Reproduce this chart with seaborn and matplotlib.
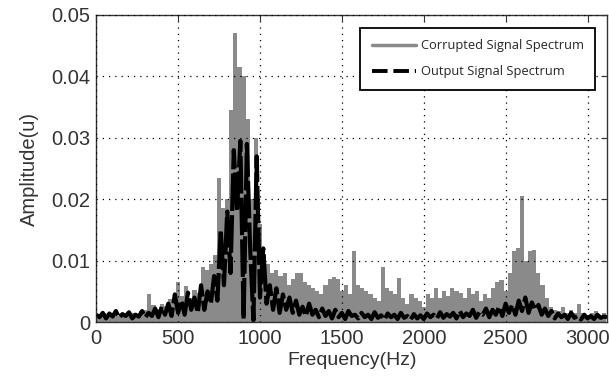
import numpy as np
import matplotlib
matplotlib.use("Agg")
import matplotlib.pyplot as plt
import seaborn as sns
from matplotlib.lines import Line2D

# corrupted spectrum, 25 Hz bins from 0 to 3100 Hz
corrupted = [
    .0010, .0012, .0015, .0011, .0013, .0010, .0014, .0012, .0011, .0015,
    .0013, .0018, .0020, .0045, .0028, .0022, .0030, .0026, .0038, .0032,
    .0065, .0042, .0058, .0040, .0052, .0048, .0090, .0085, .0095, .0110,
    .0235, .0185, .0200, .0345, .0470, .0415, .0400, .0330, .0200, .0300,
    .0160, .0110, .0095, .0080, .0085, .0075, .0080, .0060, .0070, .0080,
    .0080, .0065, .0060, .0055, .0050, .0045, .0060, .0070, .0073, .0070,
    .0050, .0060, .0045, .0115, .0060, .0055, .0050, .0045, .0040, .0035,
    .0090, .0055, .0050, .0045, .0072, .0040, .0030, .0045, .0040, .0035,
    .0025, .0045, .0040, .0055, .0040, .0050, .0042, .0055, .0050, .0048,
    .0040, .0055, .0045, .0050, .0035, .0045, .0040, .0055, .0065, .0068,
    .0050, .0080, .0115, .0120, .0205, .0100, .0115, .0117, .0080, .0060,
    .0040, .0025, .0020, .0018, .0025, .0015, .0020, .0015, .0030, .0015,
    .0012, .0015, .0018, .0010, .0015,
]
freq_c = np.arange(len(corrupted)) * 25

# output (filtered) spectrum, 20 Hz steps from 0 to 3120 Hz
output = [
    .0012, .0008, .0015, .0006, .0014, .0009, .0018, .0007, .0013, .0010,
    .0016, .0006, .0012, .0009, .0018, .0008, .0015, .0010, .0022, .0008,
    .0025, .0012, .0030, .0010, .0045, .0015, .0035, .0012, .0048, .0020,
    .0040, .0015, .0060, .0020, .0050, .0030, .0075, .0035, .0150, .0060,
    .0180, .0080, .0280, .0180, .0295, .0005, .0290, .0120, .0003, .0270,
    .0040, .0120, .0030, .0060, .0020, .0055, .0015, .0045, .0020, .0040,
    .0015, .0035, .0012, .0025, .0010, .0030, .0012, .0020, .0008, .0022,
    .0010, .0018, .0006, .0020, .0008, .0015, .0005, .0018, .0010, .0012,
    .0006, .0015, .0008, .0012, .0005, .0016, .0007, .0011, .0004, .0014,
    .0008, .0012, .0005, .0015, .0007, .0010, .0004, .0013, .0006, .0011,
    .0005, .0014, .0008, .0012, .0006, .0016, .0007, .0013, .0009, .0015,
    .0006, .0018, .0008, .0014, .0010, .0020, .0007, .0016, .0012, .0022,
    .0008, .0020, .0012, .0025, .0010, .0030, .0015, .0028, .0012, .0035,
    .0018, .0040, .0015, .0032, .0020, .0028, .0012, .0022, .0010, .0018,
    .0006, .0014, .0008, .0012, .0005, .0015, .0007, .0010, .0004, .0012,
    .0006, .0010, .0005, .0012, .0007, .0009, .0008,
]
freq_o = np.arange(len(output)) * 20

x_ticks = [0, 500, 1000, 1500, 2000, 2500, 3000]
y_ticks = [0, 0.01, 0.02, 0.03, 0.04, 0.05]
y_ticklabels = ["0", "0.01", "0.02", "0.03", "0.04", "0.05"]

sns.set_style("white")
plt.rcParams["font.family"] = ["Liberation Sans", "DejaVu Sans"]

fig = plt.figure(figsize=(6.09, 3.83), dpi=100)
ax = fig.add_axes([0.158, 0.159, 0.839, 0.802])

gray = "#8a8a8a"
sns.barplot(x=freq_c, y=corrupted, native_scale=True, width=1.0, orient="x",
            color=gray, errorbar=None, linewidth=0, ax=ax)
sns.lineplot(x=freq_o, y=output, color="black", lw=3.0, dashes=False,
             linestyle=(0, (9, 1.0)), ax=ax)

ax.set_xlim(0, 3120)
ax.set_ylim(0, 0.05)
ax.set_xticks(x_ticks)
ax.set_xticklabels([str(t) for t in x_ticks])
ax.set_yticks(y_ticks)
ax.set_yticklabels(y_ticklabels)
ax.tick_params(direction="in", top=True, right=True, length=4, labelsize=14.5,
               colors="#333333")
ax.tick_params(axis="x", pad=5)
ax.tick_params(axis="y", pad=4)
ax.grid(True, linestyle=(0, (1, 4)), color="black", lw=0.9)
ax.set_axisbelow(False)
for s in ax.spines.values():
    s.set_color("#333333")
    s.set_linewidth(1.0)

ax.set_xlabel("Frequency(Hz)", fontsize=14, color="#333333", labelpad=3)
ax.set_ylabel("Amplitude(u)", fontsize=14.5, color="#333333", labelpad=9)

handles = [Line2D([0], [0], color=gray, lw=2.5),
           Line2D([0], [0], color="black", lw=2.8, linestyle=(0, (4, 1.5)))]
leg = ax.legend(handles, ["Corrupted Signal Spectrum", "Output Signal Spectrum"],
                loc="upper right", bbox_to_anchor=(0.977, 0.958), fancybox=False,
                framealpha=1, edgecolor="black", handlelength=3.4,
                handletextpad=0.4, prop={"family": "Open Sans", "size": 9.3},
                borderpad=0.9, labelspacing=1.0, borderaxespad=0)
leg.get_frame().set_linewidth(1.3)

fig.savefig("out.png", dpi=100)
